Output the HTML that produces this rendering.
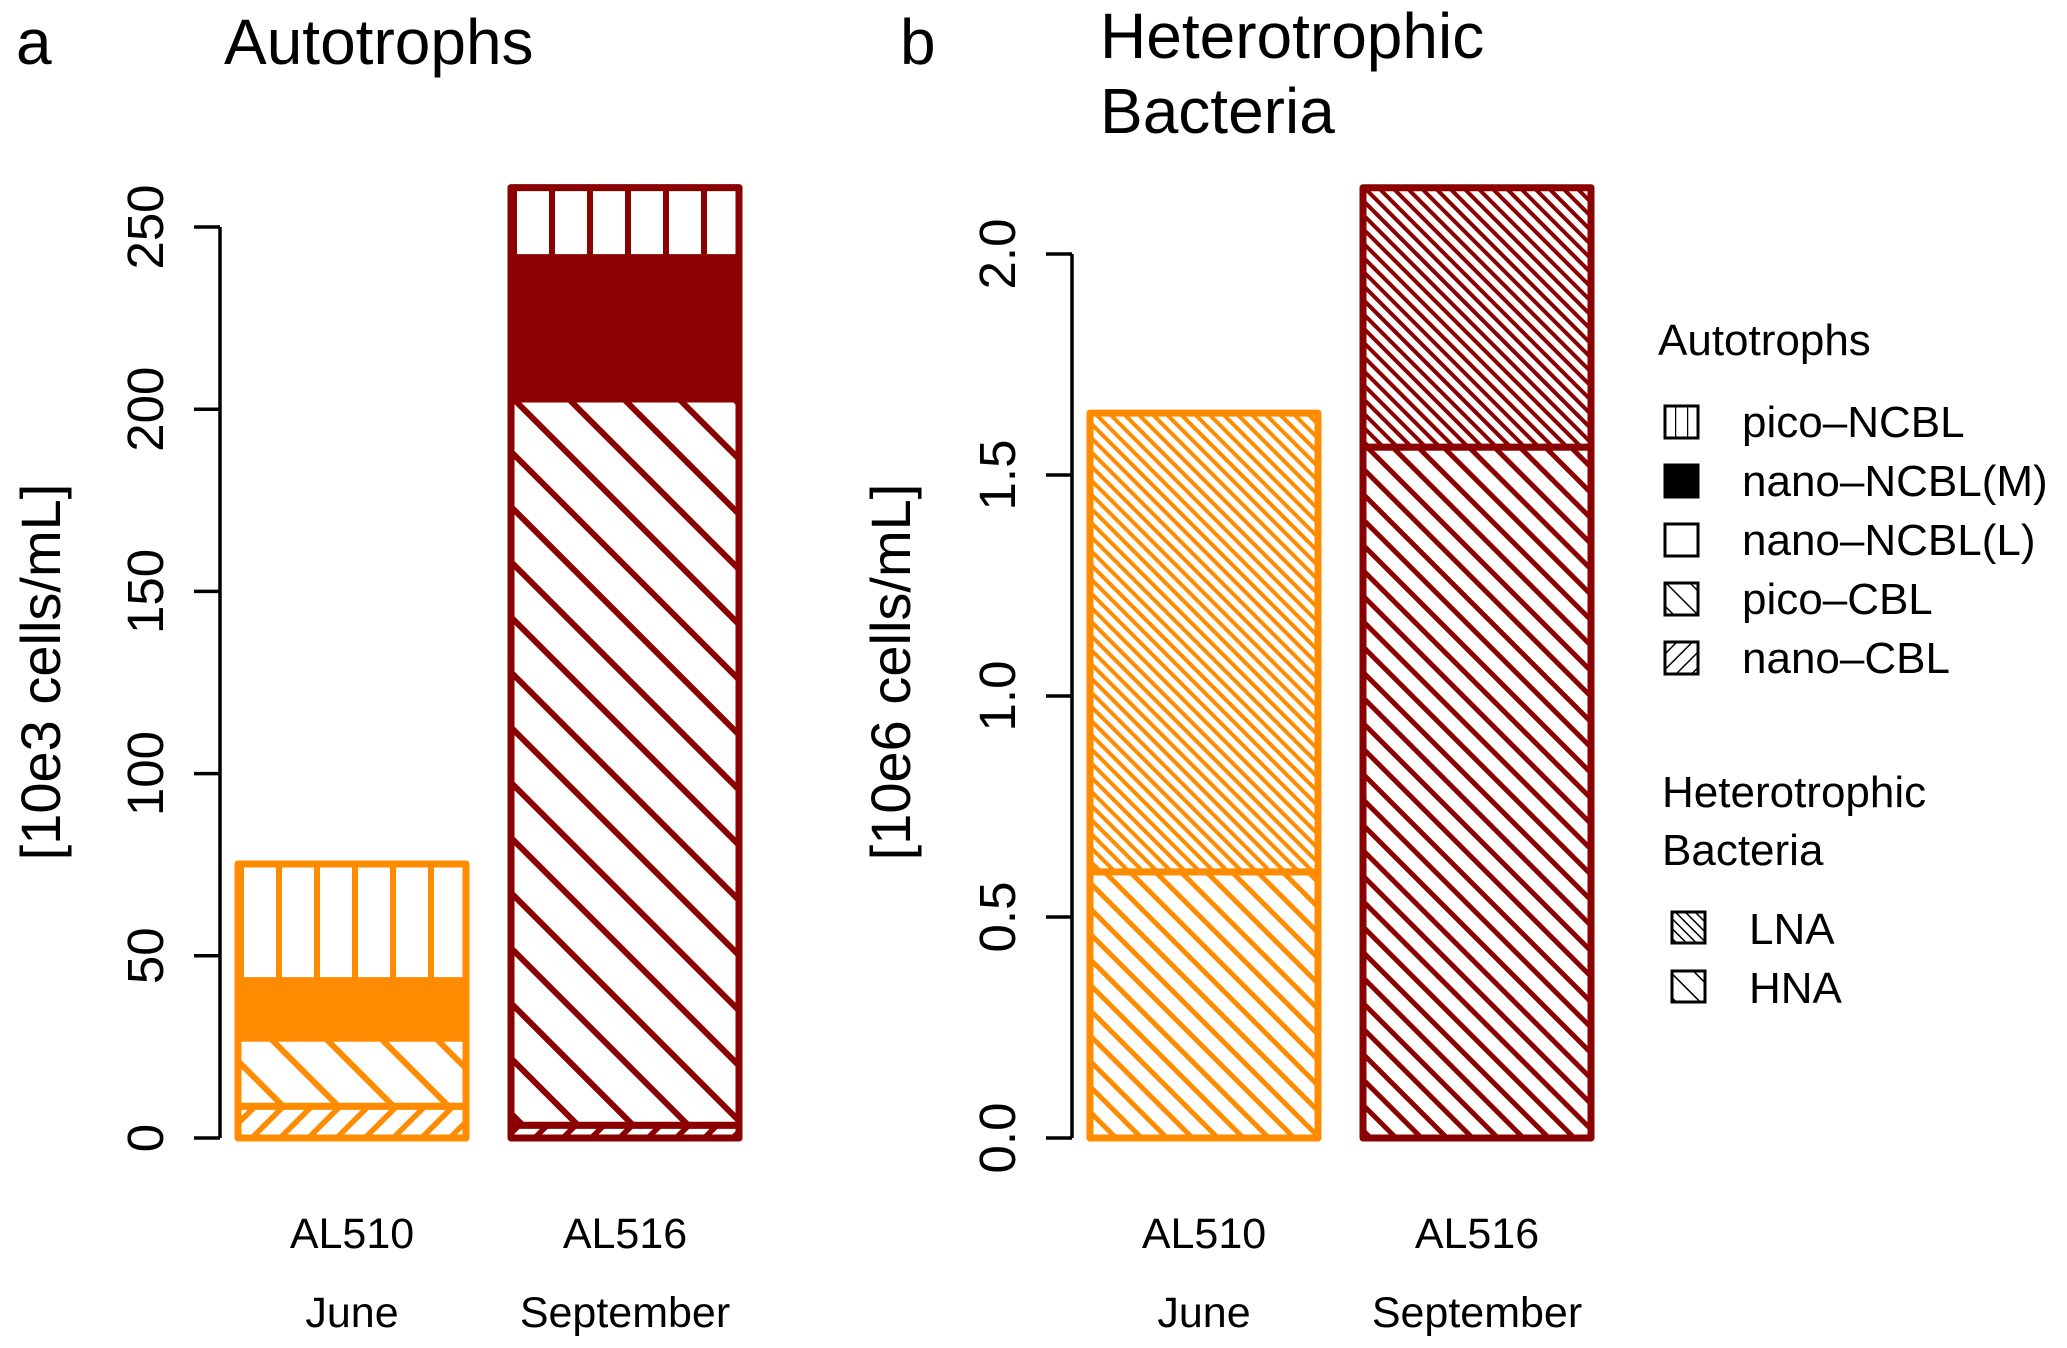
<!DOCTYPE html>
<html><head><meta charset="utf-8"><style>
html,body{margin:0;padding:0;background:#fff}
svg{display:block;font-family:"Liberation Sans",Arial,sans-serif}
</style></head><body>
<svg id="chart" width="2067" height="1348" viewBox="0 0 2067 1348" xmlns="http://www.w3.org/2000/svg">
<defs>
 <pattern id="pv-o" patternUnits="userSpaceOnUse" width="38" height="10" x="238"><rect width="38" height="10" fill="#fff"/><line x1="0" y1="-1" x2="0" y2="11" stroke="#FF8C00" stroke-width="12"/></pattern>
 <pattern id="pv-d" patternUnits="userSpaceOnUse" width="38" height="10" x="511"><rect width="38" height="10" fill="#fff"/><line x1="0" y1="-1" x2="0" y2="11" stroke="#8B0000" stroke-width="12"/></pattern>
 <pattern id="pb-o" patternUnits="userSpaceOnUse" width="39" height="10" patternTransform="rotate(-45)"><rect width="39" height="10" fill="#fff"/><line x1="0" y1="-1" x2="0" y2="11" stroke="#FF8C00" stroke-width="12"/></pattern>
 <pattern id="pb-d" patternUnits="userSpaceOnUse" width="39" height="10" patternTransform="rotate(-45)"><rect width="39" height="10" fill="#fff"/><line x1="0" y1="-1" x2="0" y2="11" stroke="#8B0000" stroke-width="12"/></pattern>
 <pattern id="pf-o" patternUnits="userSpaceOnUse" width="20" height="10" patternTransform="rotate(45)"><rect width="20" height="10" fill="#fff"/><line x1="0" y1="-1" x2="0" y2="11" stroke="#FF8C00" stroke-width="11"/></pattern>
 <pattern id="pf-d" patternUnits="userSpaceOnUse" width="20" height="10" patternTransform="rotate(45)"><rect width="20" height="10" fill="#fff"/><line x1="0" y1="-1" x2="0" y2="11" stroke="#8B0000" stroke-width="11"/></pattern>
 <pattern id="lna-o" patternUnits="userSpaceOnUse" width="10" height="10" patternTransform="rotate(-45)"><rect width="10" height="10" fill="#fff"/><line x1="0" y1="-1" x2="0" y2="11" stroke="#FF8C00" stroke-width="8"/></pattern>
 <pattern id="lna-d" patternUnits="userSpaceOnUse" width="10" height="10" patternTransform="rotate(-45)"><rect width="10" height="10" fill="#fff"/><line x1="0" y1="-1" x2="0" y2="11" stroke="#8B0000" stroke-width="8"/></pattern>
 <pattern id="hna-o" patternUnits="userSpaceOnUse" width="18" height="10" patternTransform="rotate(-45)"><rect width="18" height="10" fill="#fff"/><line x1="0" y1="-1" x2="0" y2="11" stroke="#FF8C00" stroke-width="10"/></pattern>
 <pattern id="hna-d" patternUnits="userSpaceOnUse" width="18" height="10" patternTransform="rotate(-45)"><rect width="18" height="10" fill="#fff"/><line x1="0" y1="-1" x2="0" y2="11" stroke="#8B0000" stroke-width="10"/></pattern>
 <pattern id="lg-v" patternUnits="userSpaceOnUse" width="12" height="10" x="1663"><rect width="12" height="10" fill="#fff"/><line x1="0" y1="-1" x2="0" y2="11" stroke="#000" stroke-width="2.5"/></pattern>
 <pattern id="lg-b" patternUnits="userSpaceOnUse" width="17" height="10" patternTransform="rotate(-45)"><rect width="17" height="10" fill="#fff"/><line x1="0" y1="-1" x2="0" y2="11" stroke="#000" stroke-width="3"/></pattern>
 <pattern id="lg-f" patternUnits="userSpaceOnUse" width="11" height="10" patternTransform="rotate(45)"><rect width="11" height="10" fill="#fff"/><line x1="0" y1="-1" x2="0" y2="11" stroke="#000" stroke-width="3"/></pattern>
 <pattern id="lg-l" patternUnits="userSpaceOnUse" width="7" height="10" patternTransform="rotate(-45)"><rect width="7" height="10" fill="#fff"/><line x1="0" y1="-1" x2="0" y2="11" stroke="#000" stroke-width="3"/></pattern>
</defs>
<text x="16" y="64" font-size="64">a</text>
<text x="224" y="64" font-size="64">Autotrophs</text>
<text x="900" y="64" font-size="64">b</text>
<text x="1100" y="58" font-size="64">Heterotrophic</text>
<text x="1100" y="133" font-size="64">Bacteria</text>
<g id="pa"></g>
<g id="pb"></g>
<g font-size="44">
 <text x="1658" y="355">Autotrophs</text>
 <rect x="1665" y="406" width="33" height="32" fill="url(#lg-v)" stroke="#000" stroke-width="3"/>
 <text x="1742" y="437">pico–NCBL</text>
 <rect x="1665" y="465" width="33" height="32" fill="#000" stroke="#000" stroke-width="3"/>
 <text x="1742" y="496">nano–NCBL(M)</text>
 <rect x="1665" y="524" width="33" height="32" fill="#fff" stroke="#000" stroke-width="3"/>
 <text x="1742" y="555">nano–NCBL(L)</text>
 <rect x="1665" y="583" width="33" height="32" fill="url(#lg-b)" stroke="#000" stroke-width="3"/>
 <text x="1742" y="614">pico–CBL</text>
 <rect x="1665" y="642" width="33" height="32" fill="url(#lg-f)" stroke="#000" stroke-width="3"/>
 <text x="1742" y="673">nano–CBL</text>
 <text x="1662" y="807">Heterotrophic</text>
 <text x="1662" y="865">Bacteria</text>
 <rect x="1672" y="912" width="33" height="31" fill="url(#lg-l)" stroke="#000" stroke-width="3"/>
 <text x="1749" y="944">LNA</text>
 <rect x="1672" y="971" width="33" height="31" fill="url(#lg-b)" stroke="#000" stroke-width="3"/>
 <text x="1749" y="1003">HNA</text>
</g>
</svg>
<script>
const cruises = ['AL510', 'AL516'];
const months = ['June', 'September'];
const nanoCBL = [8.7, 3.5];
const picoCBL = [18.7, 199.3];
const nanoNCBLL = [0, 0];
const nanoNCBLM = [15.8, 38.8];
const picoNCBL = [32.0, 19.2];
const ticksA = [0, 50, 100, 150, 200, 250];
const hna = [0.602, 1.563];
const lna = [1.038, 0.587];
const ticksB = ['0.0', '0.5', '1.0', '1.5', '2.0'];

const NS = 'http://www.w3.org/2000/svg';
const colors = ['#FF8C00', '#8B0000'];
const suf = ['o', 'd'];
function mk(tag, attrs, parent) {
  const e = document.createElementNS(NS, tag);
  for (const k in attrs) e.setAttribute(k, attrs[k]);
  parent.appendChild(e);
  return e;
}
const y0 = 1138;
function yA(v) { return y0 - v * (911 / 250); }
function yB(v) { return y0 - v * (884 / 2.0); }
function xBar(panelAxis, i) { return panelAxis + 18 + i * 273; }
const barW = 228;

function axis(g, ax, ticks, yf, labelX, title, titleX, name) {
  const vals = ticks.map(Number);
  const l = mk('line', {x1: ax, x2: ax, y1: yf(vals[0]), y2: yf(vals[vals.length - 1]), stroke: '#000', 'stroke-width': 3.5}, g);
  
  
  ticks.forEach((t, i) => {
    const y = yf(vals[i]);
    const tk = mk('line', {x1: ax - 26, x2: ax, y1: y, y2: y, stroke: '#000', 'stroke-width': 3.5}, g);
    
    
    const tx = mk('text', {x: 0, y: 0, 'font-size': 51, 'text-anchor': 'middle', transform: 'translate(' + labelX + ',' + y + ') rotate(-90)'}, g);
    tx.textContent = t;
    
    
  });
  const tt = mk('text', {x: 0, y: 0, 'font-size': 56, 'text-anchor': 'middle', transform: 'translate(' + titleX + ',672) rotate(-90)'}, g);
  tt.textContent = title;
  
  
}
function xlabels(g, ax, name) {
  cruises.forEach((c, i) => {
    const cx = xBar(ax, i) + barW / 2;
    const t1 = mk('text', {x: cx, y: 1248, 'font-size': 43, 'text-anchor': 'middle'}, g);
    t1.textContent = c;
    
    
    const t2 = mk('text', {x: cx, y: 1327, 'font-size': 43, 'text-anchor': 'middle'}, g);
    t2.textContent = months[i];
    
    
  });
}
function seg(g, x, yb, yt, fill, color, name) {
  if (Math.abs(yb - yt) < 0.01) return;
  const r = mk('rect', {x: x, y: yt, width: barW, height: yb - yt, fill: fill, stroke: color, 'stroke-width': 7, 'stroke-linejoin': 'round'}, g);
  
  
}
const ga = document.getElementById('pa');
const gb = document.getElementById('pb');
const axA = 220, axB = 1072;
axis(ga, axA, ticksA.map(String), yA, 163, '[10e3 cells/mL]', 60, 'panel-a');
axis(gb, axB, ticksB, yB, 1015, '[10e6 cells/mL]', 910, 'panel-b');
xlabels(ga, axA, 'panel-a');
xlabels(gb, axB, 'panel-b');
cruises.forEach((c, i) => {
  const x = xBar(axA, i), col = colors[i], s = suf[i];
  const layers = [[nanoCBL[i], 'url(#pf-' + s + ')', 'bar-nano-cbl'], [picoCBL[i], 'url(#pb-' + s + ')', 'bar-pico-cbl'], [nanoNCBLL[i], '#fff', 'bar-nano-ncbl-l'], [nanoNCBLM[i], col, 'bar-nano-ncbl-m'], [picoNCBL[i], 'url(#pv-' + s + ')', 'bar-pico-ncbl']];
  let acc = 0;
  layers.forEach(L => {
    seg(ga, x, yA(acc), yA(acc + L[0]), L[1], col, L[2] + '-' + c.toLowerCase());
    acc += L[0];
  });
  const xb = xBar(axB, i);
  seg(gb, xb, yB(0), yB(hna[i]), 'url(#hna-' + s + ')', col, 'bar-hna-' + c.toLowerCase());
  seg(gb, xb, yB(hna[i]), yB(hna[i] + lna[i]), 'url(#lna-' + s + ')', col, 'bar-lna-' + c.toLowerCase());
});
</script>
</body></html>
